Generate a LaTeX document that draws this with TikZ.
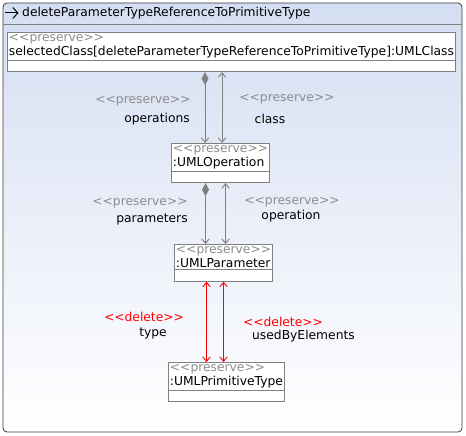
\documentclass[tikz,border=0pt]{standalone}
\usepackage{fontspec}
\setmainfont{DejaVu Sans}
\usetikzlibrary{arrows.meta, positioning, calc, shapes.multipart}
\definecolor{framegray}{RGB}{60,60,60}
\definecolor{linegray}{RGB}{128,128,128}
\definecolor{stereogray}{RGB}{140,140,140}
\definecolor{topblue}{RGB}{212,222,242}
\definecolor{delred}{RGB}{255,0,0}
\newcommand{\stype}[1]{<{}<#1>{}>}

\begin{document}
\begin{tikzpicture}[
    x=1pt, y=-1pt,
    font=\fontsize{12.3}{14}\selectfont,
    umlbox/.style={rectangle split, rectangle split parts=2, draw=linegray, fill=white,
                align=left, inner xsep=1.5pt, inner ysep=1.5pt, anchor=north west, line width=0.8pt,
                rectangle split empty part height=8pt, rectangle split empty part depth=0pt},
    stereo/.style={text=stereogray},
    lbl/.style={inner sep=0pt},
    comp/.style={draw=linegray, fill=linegray, line width=0.9pt, {Diamond[length=13pt,width=7pt]}-{Straight Barb[length=4.5pt,width=7.5pt]}},
    nav/.style={draw=linegray, line width=0.9pt, {Straight Barb[length=4.5pt,width=7.5pt]}-{Straight Barb[length=4.5pt,width=7.5pt]}},
    delnav/.style={draw=delred, line width=0.9pt, {Straight Barb[length=4.5pt,width=7.5pt]}-{Straight Barb[length=4.5pt,width=7.5pt]}}
]
\useasboundingbox (0,0) rectangle (466,436);
\draw[framegray, line width=0.8pt, rounded corners=4pt, top color=topblue, bottom color=white] (3,3) rectangle (462,432);
\draw[linegray, line width=0.8pt] (3,24) -- (462,24);
% rule icon
\draw[black, line width=1pt, -{Straight Barb[length=5pt,width=11pt]}] (5,13) -- (18.5,13);
\node[lbl, anchor=west] (title) at (22,13) {deleteParameterTypeReferenceToPrimitiveType};

% objects
\node[umlbox] (cls) at (7,32) {{\color{stereogray}\stype{preserve}}\\selectedClass[deleteParameterTypeReferenceToPrimitiveType]:UMLClass \nodepart{two}};
\node[umlbox] (op) at (171,143) {{\color{stereogray}\stype{preserve}}\\:UMLOperation \nodepart{two}};
\node[umlbox] (par) at (174,244) {{\color{stereogray}\stype{preserve}}\\:UMLParameter \nodepart{two}};
\node[umlbox] (prim) at (168,362) {{\color{stereogray}\stype{preserve}}\\:UMLPrimitiveType \nodepart{two}};

% edges
\draw[comp] ($(op.north |- cls.south)+(-15.5,0)$) -- ($(op.north)+(-15.5,0)$);
\draw[nav] ($(op.north |- cls.south)+(1.5,0)$) -- ($(op.north)+(1.5,0)$);
\draw[comp] ($(op.south)+(-15,0)$) -- ($(op.south |- par.north)+(-15,0)$);
\draw[nav] ($(op.south)+(5,0)$) -- ($(op.south |- par.north)+(5,0)$);
\draw[delnav] ($(par.south)+(-17,0)$) -- ($(par.south |- prim.north)+(-17,0)$);
\draw[delnav] ($(par.south)+(0,0)$) -- ($(par.south |- prim.north)+(0,0)$);

% edge labels
\node[lbl, stereo] (opsst) at (143,101) {\stype{preserve}};
\node[lbl] (ops) at (157,119) {operations};
\node[lbl, stereo] (clsst) at (287,99) {\stype{preserve}};
\node[lbl] (clslbl) at (270,119) {class};
\node[lbl, stereo] (parst) at (140,203) {\stype{preserve}};
\node[lbl] (pars) at (152,219) {parameters};
\node[lbl, stereo] (opst) at (292,202) {\stype{preserve}};
\node[lbl] (oplbl) at (291,216) {operation};
\node[lbl, text=delred] (typest) at (144,317) {\stype{delete}};
\node[lbl] (typelbl) at (153,333) {type};
\node[lbl, text=delred] (usedst) at (283,322) {\stype{delete}};
\node[lbl] (used) at (303.5,336) {usedByElements};
\end{tikzpicture}
\end{document}
